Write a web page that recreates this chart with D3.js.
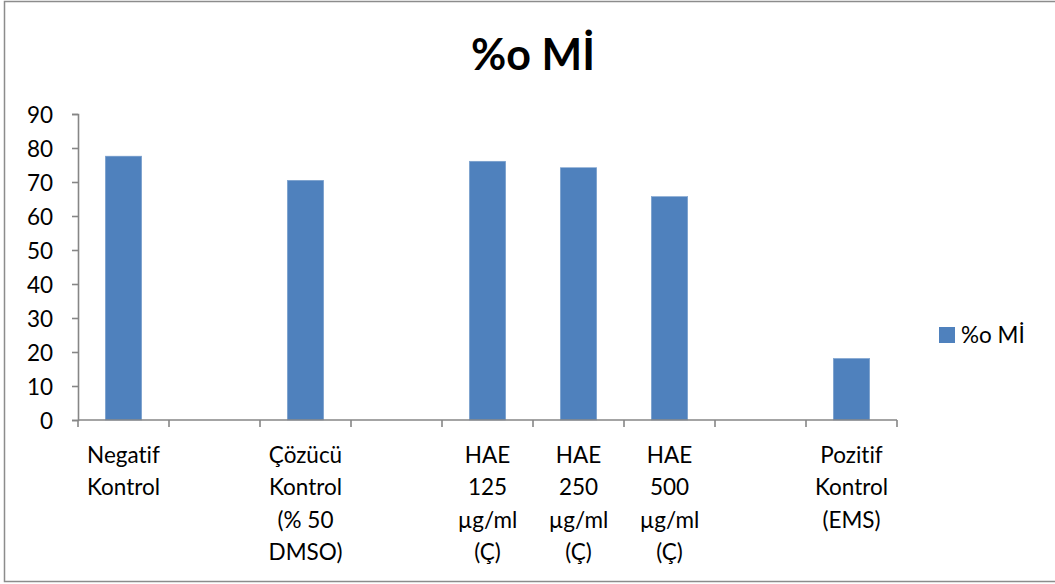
<!DOCTYPE html>
<html><head><meta charset="utf-8">
<script src="https://cdn.jsdelivr.net/npm/d3@7"></script>
<style>body{margin:0;background:#fff}svg{display:block}text{font-variant-ligatures:none;font-feature-settings:"liga" 0}</style>
</head><body>
<svg id="c" width="1055" height="584"></svg>
<script>
const categories = ["Negatif\nKontrol", "", "Çözücü\nKontrol\n(% 50\nDMSO)", "", "HAE\n125\nµg/ml\n(Ç)", "HAE\n250\nµg/ml\n(Ç)", "HAE\n500\nµg/ml\n(Ç)", "", "Pozitif\nKontrol\n(EMS)"];
const values = [77.6, null, 70.5, null, 76.1, 74.2, 65.7, null, 18.1];
const yTicks = [0, 10, 20, 30, 40, 50, 60, 70, 80, 90];
const seriesName = "%o Mİ";
const titleText = "%o Mİ";

(function () {
const font = "Lato, 'Open Sans', sans-serif";
const fs = 22.5;
const svg = d3.select("#c");
svg.append("rect").attr("x", 4.5).attr("y", 1.5).attr("width", 1060).attr("height", 580)
  .attr("fill", "none").attr("stroke", "#8c8c8c").attr("stroke-width", 1.5);

const pLeft = 78, pRight = 897, pTop = 114, pBottom = 420;
const x = d3.scaleBand().domain(d3.range(categories.length)).range([pLeft, pRight]).paddingInner(0).paddingOuter(0);
const y = d3.scaleLinear().domain([0, 90]).range([pBottom, pTop]);
const barW = x.bandwidth() * 0.4;

svg.append("text").attr("x", 533).attr("y", 70).attr("text-anchor", "middle")
  .attr("font-family", font).attr("font-weight", "bold").attr("font-size", 43).attr("fill", "#000").text(titleText);

svg.append("g").selectAll("rect").data(values.map((v, i) => ({v, i})).filter(d => d.v != null)).join("rect")
  .attr("x", d => x(d.i) + (x.bandwidth() - barW) / 2)
  .attr("y", d => y(d.v))
  .attr("width", barW)
  .attr("height", d => y(0) - y(d.v))
  .attr("fill", "#4F81BD")
  .attr("stroke", "#7fa3cf").attr("stroke-width", 0.6);

const yAxis = svg.append("g").attr("transform", `translate(${pLeft},0)`)
  .call(d3.axisLeft(y).tickValues(yTicks).tickSize(6).tickPadding(19));
yAxis.select(".domain").attr("stroke", "#868686").attr("stroke-width", 1.6);
yAxis.selectAll(".tick line").attr("stroke", "#868686").attr("stroke-width", 1.6);
yAxis.selectAll(".tick text").attr("font-family", font).attr("font-size", fs).attr("fill", "#000").attr("dy", "0.36em");

const xEdges = d3.range(categories.length + 1).map(i => pLeft + i * x.step());
const xAxis = svg.append("g");
xAxis.append("line").attr("x1", pLeft).attr("x2", pRight).attr("y1", pBottom).attr("y2", pBottom)
  .attr("stroke", "#868686").attr("stroke-width", 1.6);
xAxis.selectAll("line.t").data(xEdges).join("line").attr("class", "t")
  .attr("x1", d => d).attr("x2", d => d).attr("y1", pBottom).attr("y2", pBottom + 7)
  .attr("stroke", "#868686").attr("stroke-width", 1.6);

const lab = svg.append("g").selectAll("text").data(categories.map((c, i) => ({c, i}))).join("text")
  .attr("text-anchor", "middle").attr("font-family", font).attr("font-size", fs).attr("fill", "#000")
  .attr("x", d => x(d.i) + x.bandwidth() / 2).attr("y", 463);
lab.selectAll("tspan").data(d => d.c ? d.c.split("\n").map(t => ({t, x: x(d.i) + x.bandwidth() / 2})) : []).join("tspan")
  .attr("x", d => d.x).attr("dy", (d, j) => j === 0 ? 0 : 32.3).text(d => d.t);

svg.append("rect").attr("x", 939).attr("y", 327).attr("width", 16).attr("height", 16).attr("fill", "#4F81BD");
svg.append("text").attr("x", 961).attr("y", 343).attr("font-family", font).attr("font-size", fs).attr("fill", "#000").text(seriesName);
})();
</script>
</body></html>
